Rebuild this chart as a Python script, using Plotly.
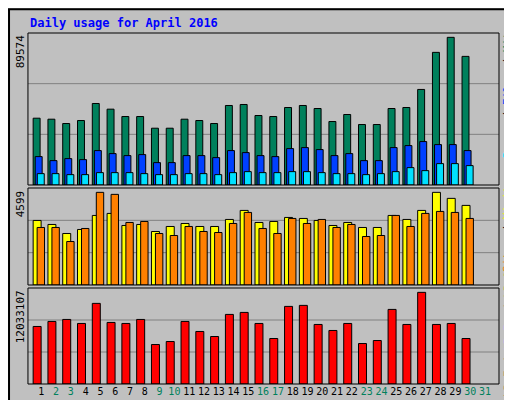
import plotly.graph_objects as go

days = list(range(1, 31))
weekend_days = [2, 3, 9, 10, 16, 17, 23, 24, 30, 31]

hits = [40532, 39924, 37289, 39113, 49449, 46004, 41545, 41545, 34452, 34452,
        39924, 39113, 37289, 48233, 48841, 42153, 41545, 47017, 48233, 46409,
        38505, 42761, 36681, 36681, 46409, 47017, 57961, 80456, 89574, 78024]
files = [17226, 14794, 16010, 15402, 20874, 19050, 17834, 18442, 13578, 13578,
         17834, 17834, 16618, 20874, 19658, 17834, 17226, 22090, 22698, 21482,
         17834, 19050, 14794, 14794, 22698, 23914, 26346, 24522, 24522, 20874]
pages = [6890, 6890, 6282, 6282, 7498, 7498, 7498, 6890, 6282, 6282,
         6890, 6890, 6282, 7498, 8106, 7498, 7498, 8106, 8106, 7498,
         6890, 6890, 6282, 6890, 8106, 10538, 8714, 12970, 12970, 11754]
visits = [3204, 3005, 2557, 2756, 3453, 3553, 2955, 3005, 2656, 2905,
          3054, 2905, 2905, 3254, 3702, 3104, 3154, 3353, 3304, 3204,
          2955, 3104, 2855, 2855, 3453, 3254, 3702, 4599, 4300, 3951]
sites = [2855, 2855, 2158, 2806, 4599, 4499, 3104, 3154, 2557, 2457,
         2905, 2656, 2606, 3054, 3602, 2806, 2557, 3304, 3054, 3254,
         2855, 3005, 2407, 2457, 3453, 2905, 3553, 3652, 3602, 3304]
kbytes = [7553724, 8212479, 8475981, 7948977, 10583997, 8080728, 7948977, 8475981, 5182206, 5577459,
          8212479, 6894969, 6236214, 9134736, 9398238, 7948977, 5972712, 10188744, 10320495, 7817226,
          7026720, 7948977, 5313957, 5709210, 9793491, 7817226, 12033107, 7817226, 7948977, 5972712]

BG = "#C0C0C0"
FONT = "DejaVu Sans Mono"
W = 0.47

fig = go.Figure()
line = dict(color="black", width=1)


def bar(y, color, axis, offset, width):
    return go.Bar(x=days, y=y, xaxis="x" + axis, yaxis="y" + axis, offset=offset, width=width,
                  marker=dict(color=color, line=line), showlegend=False)


fig.add_trace(bar(hits, "#00805C", "", -0.55, W))
fig.add_trace(bar(files, "#0040FF", "", -0.41, W))
fig.add_trace(bar(pages, "#00E0FF", "", -0.27, W))
fig.add_trace(bar(visits, "#FFFF00", "2", -0.55, 0.54))
fig.add_trace(bar(sites, "#FF8000", "2", -0.28, 0.5))
fig.add_trace(bar(kbytes, "#FF0000", "3", -0.55, 0.54))

xr = [0.1, 31.95]
panels = [("", [0.5575, 0.9375], max(hits) * 455 / 442, "89574"),
          ("2", [0.3075, 0.55], max(visits) * 290 / 277, "4599"),
          ("3", [0.06, 0.30], max(kbytes) * 287 / 274, "12033107")]

ticktext = []
for d in range(1, 32):
    c = "#00805C" if d in weekend_days else "black"
    ticktext.append('<span style="color:%s">%d</span>' % (c, d))

layout = dict(width=512, height=400, margin=dict(l=0, r=0, t=0, b=0),
              paper_bgcolor=BG, plot_bgcolor=BG, barmode="overlay",
              font=dict(family=FONT, size=11, color="black"))
shapes = []
annotations = []
for ax, dom, top, lab in panels:
    xa = "xaxis" + ax
    ya = "yaxis" + ax
    layout[xa] = dict(domain=[0.039, 0.959], range=xr, showgrid=False, zeroline=False,
                      showticklabels=False, ticks="", anchor="y" + ax)
    layout[ya] = dict(domain=dom, range=[0, top], showgrid=False, zeroline=False,
                      showticklabels=False, anchor="x" + ax)
    yd = "y" + ax + " domain"
    for g in (1 / 3, 2 / 3):
        shapes.append(dict(type="line", xref="paper", yref=yd, x0=0.039, x1=0.959, y0=g, y1=g,
                           line=dict(color="#808080", width=1), layer="below"))
    shapes.append(dict(type="rect", xref="paper", yref=yd, x0=0.039, x1=0.959, y0=0, y1=1,
                       line=dict(color="black", width=1)))
    annotations.append(dict(text=lab, textangle=-90, xref="paper", yref=yd, x=0.025, y=1,
                            xanchor="center", yanchor="top", showarrow=False,
                            font=dict(size=11, color="black")))

layout["xaxis3"].update(showticklabels=True, tickvals=list(range(1, 32)), ticktext=ticktext,
                        tickangle=0, tickfont=dict(size=10))

legends = [
    ('<span style="color:#00E0FF">Pages</span> / <span style="color:#0040FF">Files</span>'
     ' / <span style="color:#00805C">Hits</span>', 0.79),
    ('<span style="color:#FF8000">Sites</span> / <span style="color:#FFFF00">Visits</span>', 0.455),
    ('<span style="color:#FF0000">kB F</span> / <span style="color:#0080FF">kB In</span>'
     ' / <span style="color:#00C000">kB Out</span>', 0.2),
]

annotations.append(dict(text="Daily usage for April 2016", xref="paper", yref="paper", x=0.039, y=0.985,
                        xanchor="left", yanchor="top", showarrow=False,
                        font=dict(size=12, color="#0000FF", family=FONT, weight="bold")))
for txt, yc in legends:
    annotations.append(dict(text=txt, textangle=-90, xref="paper", yref="paper", x=0.977, y=yc,
                            xanchor="center", yanchor="middle", showarrow=False,
                            font=dict(size=11, family=FONT)))

shapes.append(dict(type="rect", xref="paper", yref="paper", x0=0.002, x1=0.998, y0=0.003, y1=0.997,
                   line=dict(color="black", width=2)))
layout["shapes"] = shapes
layout["annotations"] = annotations
fig.update_layout(**layout)

fig.write_html("out.html")
